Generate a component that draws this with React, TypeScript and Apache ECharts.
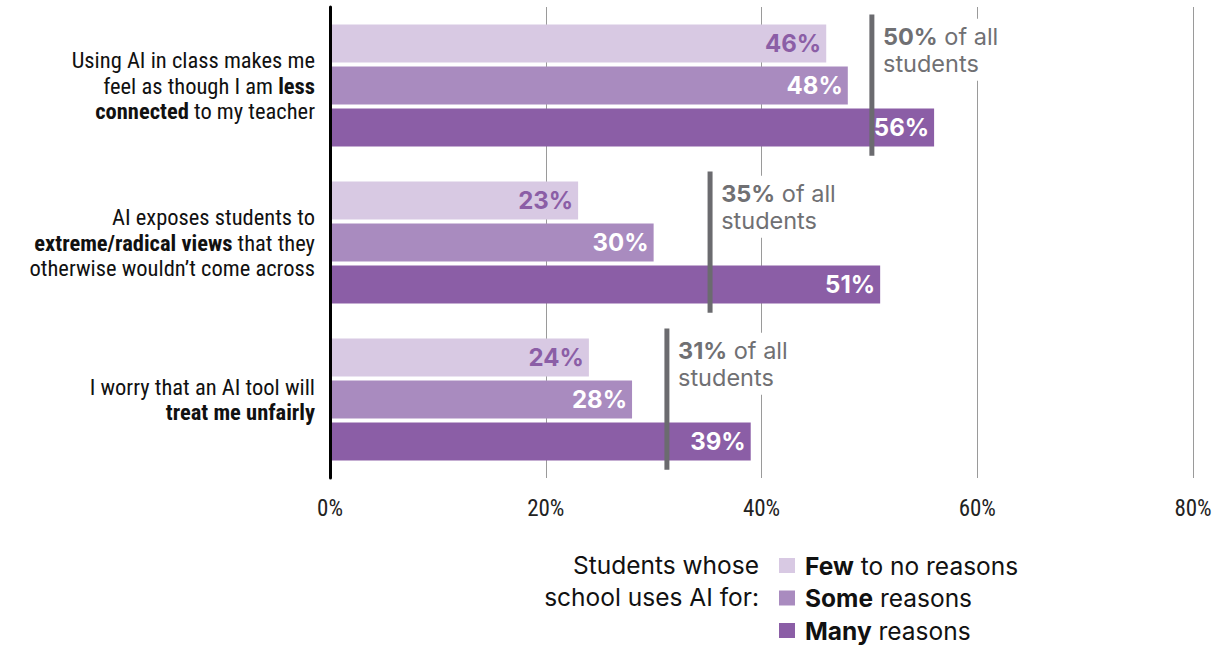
import React, { useEffect, useRef } from "react";
import * as echarts from "echarts";

const categories = [
  "Using AI in class makes me\nfeel as though I am {b|less}\n{b|connected} to my teacher",
  "AI exposes students to\n{b|extreme/radical views} that they\notherwise wouldn’t come across",
  "I worry that an AI tool will\n{b|treat me unfairly}",
];
const seriesNames = ["Few to no reasons", "Some reasons", "Many reasons"];
const legendBold = ["Few", "Some", "Many"];
const fewValues = [46, 23, 24];
const someValues = [48, 30, 28];
const manyValues = [56, 51, 39];
const allStudents = [50, 35, 31];
const xMin = 0;
const xMax = 80;
const xInterval = 20;
const legendTitle = "Students whose\nschool uses AI for:";

const colors = ["#d8c9e3", "#a98bbf", "#8b5ea6"];
const labelColors = ["#8b5ea6", "#ffffff", "#ffffff"];
const condensed = "'Roboto Condensed', 'Liberation Sans Narrow', 'DejaVu Sans Condensed', sans-serif";
const sans = "Inter, 'Noto Sans', sans-serif";

export default function App() {
  const ref = useRef<HTMLDivElement>(null);
  useEffect(() => {
    if (!ref.current) return;
    const chart = echarts.init(ref.current, null, { renderer: "svg" });
    const valueSeries = [fewValues, someValues, manyValues];
    const bars = valueSeries.map((vals, i) => ({
      type: "bar",
      name: seriesNames[i],
      data: vals,
      barWidth: 38,
      barGap: "10.5%",
      z: 2,
      itemStyle: { color: colors[i] },
      label: {
        show: true,
        position: "insideRight",
        distance: 5,
        formatter: "{c}%",
        color: labelColors[i],
        fontFamily: sans,
        fontWeight: "bold",
        fontSize: 24,
      },
    }));
    const option: any = {
      animation: false,
      grid: { left: 330, right: 29, top: 7, bottom: 168, containLabel: false },
      xAxis: {
        type: "value",
        min: xMin,
        max: xMax,
        interval: xInterval,
        axisLine: { show: false },
        axisTick: { show: false },
        splitLine: { show: true, lineStyle: { color: "#9a9a9a", width: 1 } },
        axisLabel: {
          formatter: "{value}%",
          color: "#222",
          fontFamily: condensed,
          fontSize: 23,
          margin: 19,
        },
      },
      yAxis: {
        type: "category",
        data: categories,
        inverse: true,
        z: 10,
        axisLine: { show: true, lineStyle: { color: "#000", width: 3 } },
        axisTick: { show: false },
        axisLabel: {
          margin: 15,
          color: "#111",
          fontFamily: condensed,
          fontSize: 22.5,
          lineHeight: 25.5,
          align: "right",
          rich: {
            b: {
              fontWeight: "bold",
              fontFamily: condensed,
              fontSize: 22.5,
              lineHeight: 25.5,
              color: "#111",
            },
          },
        },
      },
      legend: {
        show: true,
        data: seriesNames,
        orient: "vertical",
        left: 779,
        top: 553,
        padding: 0,
        itemWidth: 16,
        itemHeight: 15,
        itemGap: 7.5,
        icon: "rect",
        selectedMode: false,
        formatter: (name: string) => {
          const i = seriesNames.indexOf(name);
          const bold = legendBold[i];
          return "{s|}{b|" + bold + "}" + name.slice(bold.length);
        },
        textStyle: {
          fontFamily: sans,
          fontSize: 24.5,
          lineHeight: 25,
          color: "#111",
          rich: {
            s: { width: 5 },
            b: { fontFamily: sans, fontSize: 24.5, fontWeight: "bold", color: "#111", lineHeight: 25 },
          },
        },
      },
      graphic: [
        {
          type: "text",
          x: 759,
          y: 549,
          style: {
            text: legendTitle,
            fill: "#111",
            font: "24.5px " + sans,
            lineHeight: 32,
            align: "right",
            verticalAlign: "top",
          },
        },
      ],
      series: [
        ...bars,
        {
          type: "custom",
          name: "all",
          z: 5,
          data: allStudents.map((v, i) => [v, i]),
          encode: { x: 0, y: 1 },
          renderItem: (params: any, api: any) => {
            const v = api.value(0);
            const p = api.coord([v, api.value(1)]);
            const band = api.size([0, 1])[1];
            return {
              type: "group",
              children: [
                {
                  type: "rect",
                  shape: { x: p[0], y: p[1] - 0.452 * band, width: 5, height: 0.9 * band },
                  style: { fill: "#6b6b6f" },
                },
                {
                  type: "text",
                  x: p[0] + 13.6 - 4,
                  y: p[1] - 0.4 * band - 4,
                  style: {
                    text: "{b|" + v + "%} of all\nstudents",
                    fill: "#707073",
                    fontFamily: sans,
                    fontSize: 23.5,
                    lineHeight: 27,
                    align: "left",
                    verticalAlign: "top",
                    backgroundColor: "#ffffff",
                    padding: [4, 4, 4, 4],
                    rich: {
                      b: {
                        fontFamily: sans,
                        fontSize: 23.5,
                        fontWeight: "bold",
                        fill: "#707073",
                        lineHeight: 27,
                      },
                    },
                  },
                },
              ],
            };
          },
        },
      ],
    };
    chart.setOption(option);
    return () => chart.dispose();
  }, []);
  return (
    <div
      ref={ref}
      style={{ position: "fixed", left: 0, top: 0, width: 1222, height: 646, background: "#fff" }}
    />
  );
}
